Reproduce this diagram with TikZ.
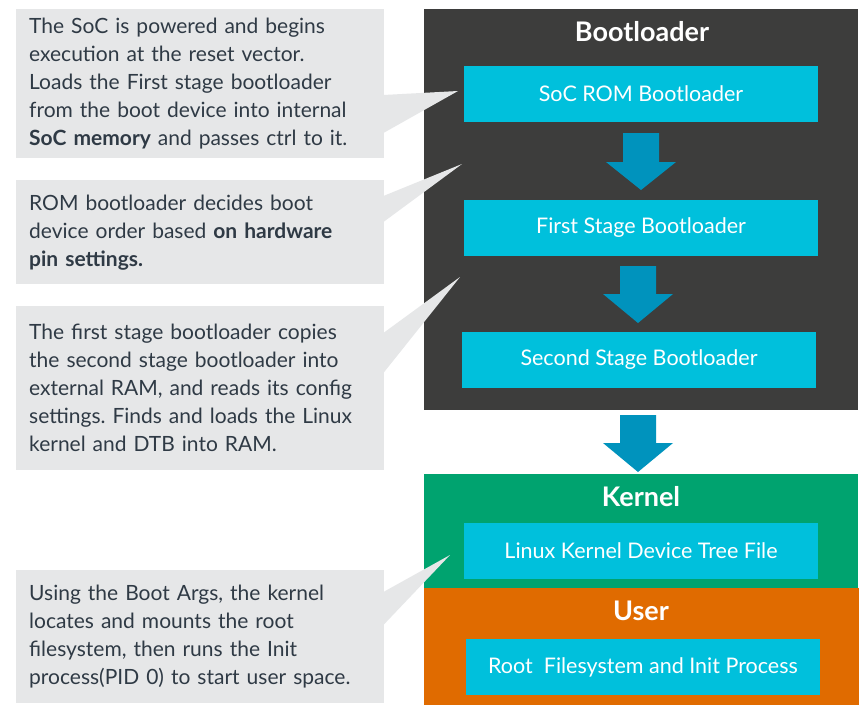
\documentclass[tikz,border=0pt]{standalone}
\usepackage{fontspec}
\setmainfont{Lato}
\usetikzlibrary{calc}
\frenchspacing
\definecolor{darkbg}{HTML}{3D3D3C}
\definecolor{cyanbox}{HTML}{00C0DC}
\definecolor{arrowc}{HTML}{0093BD}
\definecolor{greenbg}{HTML}{00A36F}
\definecolor{orangebg}{HTML}{E06B00}
\definecolor{callgray}{HTML}{E6E7E8}
\definecolor{calltext}{HTML}{2F3A45}
\tikzset{
  callout/.style={fill=callgray, draw=none, anchor=north west, minimum width=368pt,
    text width=342pt, inner xsep=13pt, inner ysep=0pt, align=left, text=calltext,
    font=\fontsize{21}{28}\selectfont},
  pointer/.style={fill=callgray, draw=none},
  panel/.style={draw=none, anchor=north west, minimum width=434pt, inner sep=0pt},
  stage/.style={fill=cyanbox, draw=none, text=white, minimum width=354pt, minimum height=56pt,
    inner sep=0pt, font=\fontsize{21.5}{24}\selectfont},
  paneltitle/.style={text=white, font=\bfseries\fontsize{27}{30}\selectfont, inner sep=0pt},
  blockarrow/.style={fill=arrowc, draw=none}
}
\newcommand{\downblock}[4]{%
  \fill[blockarrow] ({#1-18},#2) -- ({#1+18},#2) -- ({#1+18},#3) -- ({#1+35},#3)
    -- (#1,#4) -- ({#1-35},#3) -- ({#1-18},#3) -- cycle;}
\begin{document}
\begin{tikzpicture}[x=1pt,y=-1pt]
\useasboundingbox (0,0) rectangle (863,707);
\fill[white] (0,0) rectangle (863,707);

% panels
\node[panel, fill=darkbg, minimum height=401pt] (boot) at (424,9) {};
\node[panel, fill=greenbg, minimum height=114pt] (kern) at (424,474) {};
\node[panel, fill=orangebg, minimum height=117pt, minimum width=435pt] (user) at (424,588) {};

\node[paneltitle] (tboot) at (642,32) {Bootloader};
\node[paneltitle] (tkern) at (641,497) {Kernel};
\node[paneltitle] (tuser) at (641,611) {User};

% stage boxes
\node[stage] (b1) at (641,94) {SoC ROM Bootloader};
\node[stage] (b2) at (641,227.5) {First Stage Bootloader};
\node[stage] (b3) at (639,360) {Second Stage Bootloader};
\node[stage] (b4) at (641,550.5) {Linux Kernel Device Tree File};
\node[stage] (b5) at (643,667) {Root\ \ Filesystem and Init Process};

% block arrows
\downblock{641}{133}{162}{190}
\downblock{638}{266}{294}{323}
\downblock{638}{415}{443}{472}

% callouts
\node[callout, minimum height=149pt] (c1) at (16,9)
  {The SoC is powered and begins\\execution at the reset vector.\\Loads the First stage bootloader\\from the boot device into internal\\\textbf{SoC memory} and passes ctrl to it.};
\node[callout, minimum height=104pt] (c2) at (16,180)
  {ROM bootloader decides boot\\device order based \textbf{on hardware}\\\textbf{pin settings.}};
\node[callout, minimum height=164pt] (c3) at (16,306)
  {The first stage bootloader copies\\the second stage bootloader into\\external RAM, and reads its config\\settings. Finds and loads the Linux\\kernel and DTB into RAM.};
\node[callout, minimum height=133pt] (c4) at (16,570)
  {Using the Boot Args, the kernel\\locates and mounts the root\\filesystem, then runs the Init\\process(PID 0) to start user space.};

% pointer tips
\coordinate (t1) at (458,91);
\coordinate (t2) at (462,164);
\coordinate (t3) at (460,277);
\coordinate (t4) at (450,555);

\fill[pointer] ($(c1.north east)+(-1,86)$) -- (t1) -- ($(c1.north east)+(-1,124)$) -- cycle;
\fill[pointer] ($(c2.north east)+(-1,16)$) -- (t2) -- ($(c2.north east)+(-1,42)$) -- cycle;
\fill[pointer] ($(c3.north east)+(-1,27)$) -- (t3) -- ($(c3.north east)+(-1,67)$) -- cycle;
\fill[pointer] ($(c4.north east)+(-1,22)$) -- (t4) -- ($(c4.north east)+(-1,55)$) -- cycle;
\end{tikzpicture}
\end{document}
